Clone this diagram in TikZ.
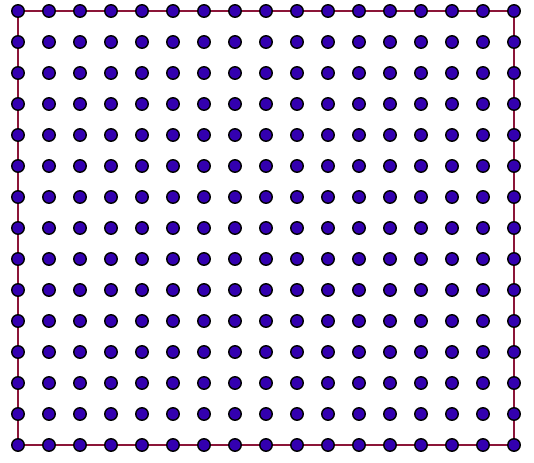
\documentclass[tikz,border=0pt]{standalone}
\definecolor{border}{HTML}{8B1538}
\definecolor{dotfill}{HTML}{3300B0}
\tikzset{gdot/.style={circle,draw=black,fill=dotfill,line width=1.4pt,minimum size=12.5pt,inner sep=0pt}}
\begin{document}
\begin{tikzpicture}[x=1pt,y=-1pt]
\useasboundingbox (0,0) rectangle (534,462);
\coordinate (tl) at (18,11);
\coordinate (br) at (514,445);
\draw[border,line width=2pt] (tl) rectangle (br);
\foreach \i in {0,...,16}{
  \foreach \j in {0,...,14}{
    \node[gdot] (d-\i-\j) at (18+31*\i,11+31*\j) {};
  }
}
\end{tikzpicture}
\end{document}
